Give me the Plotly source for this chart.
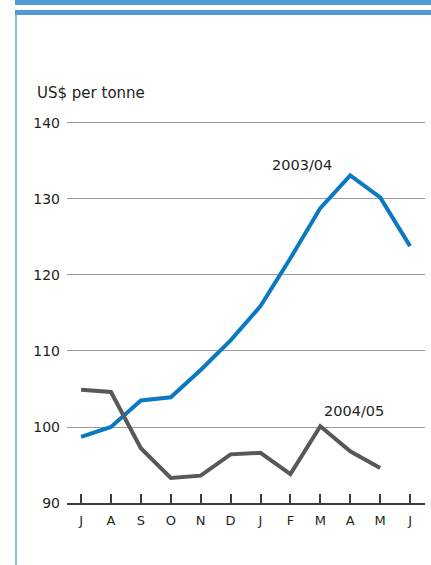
import plotly.graph_objects as go

# Monthly prices, July to June
months = ["J", "A", "S", "O", "N", "D", "J", "F", "M", "A", "M", "J"]
season_2003_04 = [98.7, 100.0, 103.5, 103.9, 107.5, 111.4, 115.9, 122.2, 128.8, 133.1, 130.2, 123.8]
season_2004_05 = [104.9, 104.6, 97.2, 93.3, 93.6, 96.4, 96.6, 93.8, 100.1, 96.8, 94.6]
y_ticks = [90, 100, 110, 120, 130, 140]

W, H = 431, 565
L, R, T, B = 67, 425, 121, 503
FONT = "DejaVu Sans"
TEXT = "#231f20"

idx = list(range(len(months)))


def px_x(x):
    return (x - L) / (R - L)


def px_y(y):
    return (B - y) / (B - T)


fig = go.Figure()
fig.add_trace(go.Scatter(
    x=idx[:len(season_2003_04)], y=season_2003_04, mode="lines",
    line=dict(color="#0a79c2", width=4), hoverinfo="skip", showlegend=False))
fig.add_trace(go.Scatter(
    x=idx[:len(season_2004_05)], y=season_2004_05, mode="lines",
    line=dict(color="#58585a", width=4), hoverinfo="skip", showlegend=False))

# Frame decoration: two blue bands on top and a light rule down the left
shapes = [
    dict(type="rect", xref="paper", yref="paper", x0=px_x(15), x1=px_x(431),
         y0=px_y(5), y1=px_y(0), fillcolor="#519bd5", line=dict(width=0), layer="below"),
    dict(type="rect", xref="paper", yref="paper", x0=px_x(15), x1=px_x(431),
         y0=px_y(15), y1=px_y(10), fillcolor="#519bd5", line=dict(width=0), layer="below"),
    dict(type="rect", xref="paper", yref="paper", x0=px_x(15), x1=px_x(17),
         y0=px_y(565), y1=px_y(15), fillcolor="#84bbe6", line=dict(width=0), layer="below"),
]

annotations = [
    dict(text="US$ per tonne", xref="paper", yref="paper", x=px_x(35), y=px_y(93),
         xanchor="left", yanchor="middle", showarrow=False,
         font=dict(family=FONT, size=15, color=TEXT)),
    dict(text="2003/04", x=7.4, y=134.5, xanchor="center", yanchor="middle",
         showarrow=False, font=dict(family=FONT, size=14.5, color=TEXT)),
    dict(text="2004/05", x=9.12, y=102.1, xanchor="center", yanchor="middle",
         showarrow=False, font=dict(family=FONT, size=14.5, color=TEXT)),
]

fig.update_layout(
    width=W, height=H,
    margin=dict(l=L, r=W - R, t=T, b=H - B, pad=0),
    paper_bgcolor="white", plot_bgcolor="white",
    shapes=shapes, annotations=annotations,
    xaxis=dict(
        range=[-0.47, 11.5], tickmode="array", tickvals=idx, ticktext=months,
        showgrid=False, zeroline=False, showline=True, linecolor="#3c3c3c", linewidth=2,
        ticks="inside", ticklen=9, tickwidth=2, tickcolor="#3c3c3c",
        tickfont=dict(family=FONT, size=13, color=TEXT), ticklabelstandoff=4,
        fixedrange=True),
    yaxis=dict(
        range=[90, 140.26], tickmode="array", tickvals=y_ticks,
        showgrid=True, gridcolor="#9a9a9a", gridwidth=1, zeroline=False,
        showline=False, ticks="", tickfont=dict(family=FONT, size=14, color=TEXT),
        ticklabelstandoff=6, fixedrange=True),
)

fig.write_html("out.html", config={"displayModeBar": False})
